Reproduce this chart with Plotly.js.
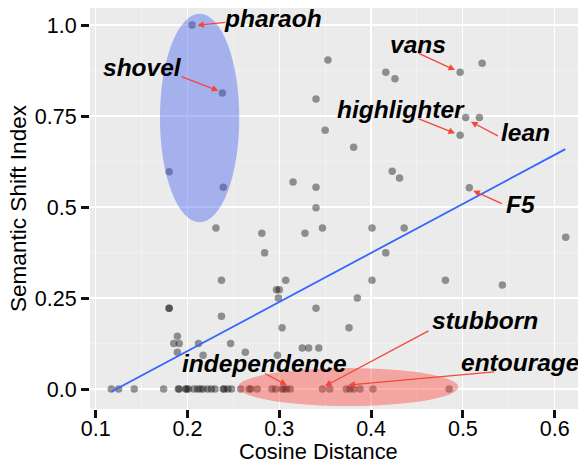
<!DOCTYPE html>
<html>
<head>
<meta charset="utf-8">
<script src="https://cdn.plot.ly/plotly-3.0.1.min.js"></script>
<style>html,body{margin:0;padding:0;background:#fff;}#chart{width:578px;height:463px;}</style>
</head>
<body>
<div id="chart"></div>
<script>
// ---- data ----
const cosineDistance = [
  0.205, 0.238, 0.353, 0.340, 0.350, 0.180, 0.239, 0.315, 0.340,
  0.416, 0.426, 0.497, 0.521, 0.503, 0.518, 0.497, 0.381, 0.423, 0.431, 0.507,
  0.340, 0.231, 0.281, 0.328, 0.347, 0.284, 0.237, 0.307, 0.297, 0.300, 0.299,
  0.180, 0.180, 0.340, 0.237, 0.303, 0.189, 0.185, 0.191, 0.212, 0.247,
  0.189, 0.217, 0.263, 0.298, 0.325, 0.332, 0.343,
  0.401, 0.436, 0.416, 0.612, 0.401, 0.481, 0.543, 0.385, 0.376,
  0.117, 0.125, 0.142, 0.174, 0.190, 0.191, 0.198, 0.199, 0.201, 0.207, 0.211,
  0.214, 0.217, 0.222, 0.226, 0.230, 0.239, 0.240, 0.244, 0.248, 0.258, 0.267,
  0.269, 0.276, 0.292, 0.296, 0.303, 0.305, 0.308, 0.312, 0.347, 0.355, 0.373,
  0.377, 0.381, 0.388, 0.402, 0.485
];
const semanticShift = [
  1.000, 0.813, 0.904, 0.797, 0.711, 0.597, 0.554, 0.569, 0.554,
  0.870, 0.852, 0.870, 0.895, 0.746, 0.746, 0.697, 0.664, 0.598, 0.580, 0.553,
  0.498, 0.442, 0.428, 0.428, 0.442, 0.374, 0.299, 0.299, 0.273, 0.273, 0.250,
  0.222, 0.222, 0.222, 0.200, 0.168, 0.145, 0.125, 0.125, 0.125, 0.125,
  0.101, 0.093, 0.101, 0.093, 0.113, 0.113, 0.113,
  0.442, 0.442, 0.374, 0.417, 0.299, 0.299, 0.286, 0.250, 0.168,
  0, 0, 0, 0, 0, 0, 0, 0, 0, 0, 0,
  0, 0, 0, 0, 0, 0, 0, 0, 0, 0, 0,
  0, 0, 0, 0, 0, 0, 0, 0, 0, 0, 0,
  0, 0, 0, 0, 0
];
// linear fit line endpoints (as drawn in the reference)
const fitX = [0.1174, 0.6116];
const fitY = [-0.007, 0.659];

const xTickVals = [0.1, 0.2, 0.3, 0.4, 0.5, 0.6];
const xTickText = ['0.1', '0.2', '0.3', '0.4', '0.5', '0.6'];
const yTickVals = [0, 0.25, 0.5, 0.75, 1.0];
const yTickText = ['0.0', '0.25', '0.5', '0.75', '1.0'];
const xTitle = 'Cosine Distance';
const yTitle = 'Semantic Shift Index';

// labelled words: the point each arrow targets
const labelWords  = ['pharaoh', 'shovel', 'vans', 'highlighter', 'lean', 'F5', 'stubborn', 'entourage', 'independence'];
const labelPointX = [0.2107, 0.2336, 0.4914, 0.4914, 0.5088, 0.5113, 0.3498, 0.3752, 0.3081];
const labelPointY = [0.9992, 0.8195, 0.8764, 0.7025, 0.7343, 0.5448, 0.0082, 0.0110, 0.0110];

// ---- placement of label text and arrow tails (layout, data coords) ----
const labelTextX = [0.2931, 0.1515, 0.4511, 0.4326, 0.5687, 0.5633, 0.5241, 0.5622, 0.2835];
const labelTextY = [1.0192, 0.8819, 0.9451, 0.7692, 0.7041, 0.5082, 0.1896, 0.0742, 0.0714];
const arrowTailX = [0.2427, 0.1918, 0.4503, 0.4503, 0.5397, 0.5440, 0.4642, 0.5357, 0.2826];
const arrowTailY = [1.0074, 0.8599, 0.9239, 0.7437, 0.6931, 0.5074, 0.1621, 0.0475, 0.0448];

const traces = [
  {
    type: 'scatter', mode: 'markers',
    x: cosineDistance, y: semanticShift,
    marker: {size: 7.5, color: 'rgba(0,0,0,0.4)', line: {width: 0}},
    hoverinfo: 'skip', showlegend: false, cliponaxis: false
  },
  {
    type: 'scatter', mode: 'lines',
    x: fitX, y: fitY,
    line: {color: '#3366FF', width: 1.8},
    hoverinfo: 'skip', showlegend: false
  }
];

const annFont = {family: 'Liberation Sans, Arial, sans-serif', size: 24.5, color: '#000', weight: 'bold', style: 'italic'};
const annotations = [];
for (let i = 0; i < labelWords.length; i++) {
  annotations.push({
    xref: 'x', yref: 'y', x: labelPointX[i], y: labelPointY[i],
    axref: 'x', ayref: 'y', ax: arrowTailX[i], ay: arrowTailY[i],
    text: '', showarrow: true, arrowhead: 2, arrowsize: 1, arrowwidth: 1.3,
    arrowcolor: '#F2473A', standoff: 0, startstandoff: 0
  });
  annotations.push({
    xref: 'x', yref: 'y', x: labelTextX[i], y: labelTextY[i],
    text: labelWords[i], showarrow: false, xanchor: 'center', yanchor: 'middle',
    font: annFont
  });
}
// x-axis title (placed as in the reference, slightly left of the panel centre)
annotations.push({
  xref: 'paper', yref: 'paper', x: 0.469, y: -0.107, xanchor: 'center', yanchor: 'middle',
  text: xTitle, showarrow: false,
  font: {family: 'Liberation Sans, Arial, sans-serif', size: 21.8, color: '#000'}
});

const shapes = [
  {type: 'circle', xref: 'x', yref: 'y', x0: 0.170, x1: 0.2564, y0: 0.458, y1: 1.031,
   fillcolor: 'rgba(60,90,240,0.4)', line: {width: 0}, layer: 'above'},
  {type: 'circle', xref: 'x', yref: 'y', x0: 0.2553, x1: 0.495, y0: -0.0467, y1: 0.0577,
   fillcolor: 'rgba(255,60,50,0.4)', line: {width: 0}, layer: 'above'}
];

const axFont = {family: 'Liberation Sans, Arial, sans-serif', size: 21.5, color: '#000'};
const titleFont = {family: 'Liberation Sans, Arial, sans-serif', size: 22.6, color: '#000'};

const layout = {
  width: 578, height: 463,
  margin: {l: 90, r: 0, t: 8, b: 54},
  paper_bgcolor: '#ffffff', plot_bgcolor: '#EBEBEB',
  showlegend: false,
  xaxis: {
    range: [0.0938, 0.6254], tickvals: xTickVals, ticktext: xTickText,
    ticks: 'outside', ticklen: 8, tickwidth: 3, tickcolor: '#111',
    ticklabelstandoff: -8,
    tickfont: axFont, showgrid: true, gridcolor: '#ffffff', gridwidth: 1.2,
    minor: {dtick: 0.05, tick0: 0.05, showgrid: true, gridcolor: '#F7F7F7', gridwidth: 0.6, ticks: ''},
    zeroline: false, showline: false, automargin: false
  },
  yaxis: {
    range: [-0.0549, 1.0467], tickvals: yTickVals, ticktext: yTickText,
    ticks: 'outside', ticklen: 8, tickwidth: 3, tickcolor: '#111',
    tickfont: axFont, showgrid: true, gridcolor: '#ffffff', gridwidth: 1.2,
    minor: {dtick: 0.125, tick0: 0.125, showgrid: true, gridcolor: '#F7F7F7', gridwidth: 0.6, ticks: ''},
    zeroline: false, showline: false, automargin: false,
    title: {text: yTitle, font: titleFont, standoff: 1}
  },
  shapes: shapes,
  annotations: annotations
};

Plotly.newPlot('chart', traces, layout, {staticPlot: true, displayModeBar: false});
</script>
</body>
</html>
